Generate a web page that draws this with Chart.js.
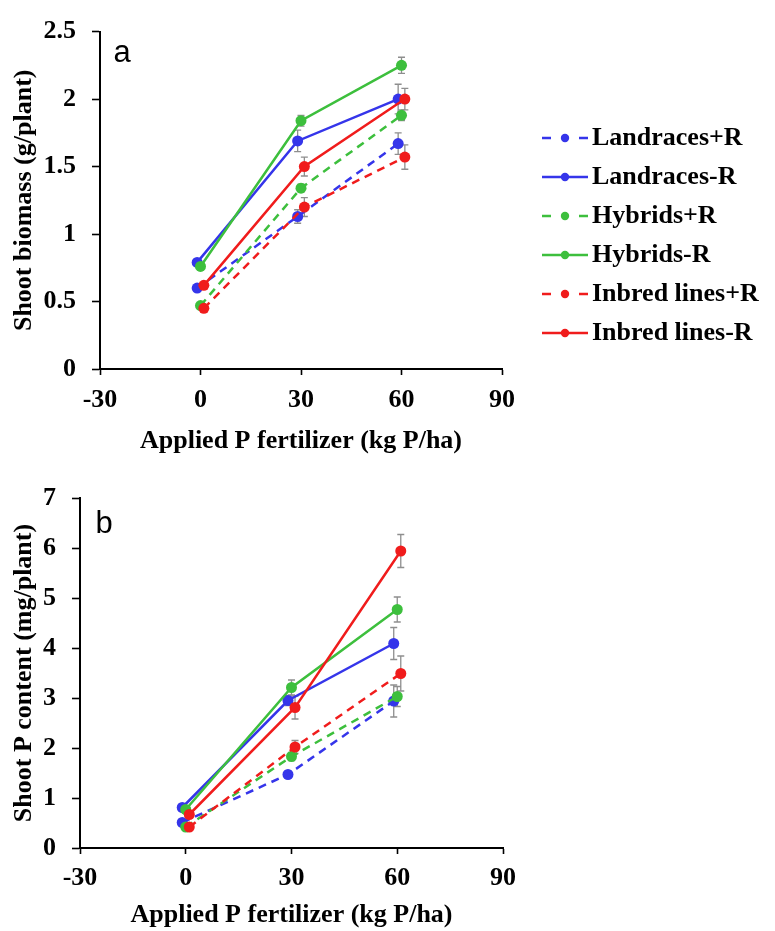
<!DOCTYPE html>
<html>
<head>
<meta charset="utf-8">
<script src="https://cdn.jsdelivr.net/npm/chart.js@4.4.0/dist/chart.umd.min.js"></script>
<style>
  html, body { margin: 0; padding: 0; background: #fff; }
  body { width: 775px; height: 931px; position: relative; overflow: hidden; }
  #wa { position: absolute; left: 0; top: 0; width: 775px; height: 460px; }
  #wb { position: absolute; left: 0; top: 460px; width: 775px; height: 471px; }
</style>
</head>
<body>
<div id="wa"><canvas id="ca"></canvas></div>
<div id="wb"><canvas id="cb"></canvas></div>
<script>
// ---------------- data ----------------
const SERIES_NAMES = ['Landraces+R', 'Landraces-R', 'Hybrids+R', 'Hybrids-R', 'Inbred lines+R', 'Inbred lines-R'];

// applied P (kg P/ha), slightly offset per group as plotted
const X_LANDRACES = [-1, 29, 59];
const X_HYBRIDS   = [0, 30, 60];
const X_INBRED    = [1, 31, 61];

const X_TICKS   = [-30, 0, 30, 60, 90];
const Y_TICKS_A = [0, 0.5, 1, 1.5, 2, 2.5];
const Y_TICKS_B = [0, 1, 2, 3, 4, 5, 6, 7];

// panel a: shoot biomass (g/plant)
const A_LANDRACES_PLUS  = [0.60, 1.13, 1.67];
const A_LANDRACES_MINUS = [0.79, 1.69, 2.00];
const A_HYBRIDS_PLUS    = [0.47, 1.34, 1.88];
const A_HYBRIDS_MINUS   = [0.76, 1.84, 2.25];
const A_INBRED_PLUS     = [0.45, 1.20, 1.57];
const A_INBRED_MINUS    = [0.62, 1.50, 2.00];

const A_ERR_LANDRACES_PLUS  = [0.02, 0.05, 0.08];
const A_ERR_LANDRACES_MINUS = [0.02, 0.08, 0.11];
const A_ERR_HYBRIDS_PLUS    = [0.02, 0.03, 0.04];
const A_ERR_HYBRIDS_MINUS   = [0.02, 0.04, 0.06];
const A_ERR_INBRED_PLUS     = [0.02, 0.07, 0.09];
const A_ERR_INBRED_MINUS    = [0.02, 0.07, 0.08];

// panel b: shoot P content (mg/plant)
const B_LANDRACES_PLUS  = [0.51, 1.47, 2.94];
const B_LANDRACES_MINUS = [0.81, 2.95, 4.09];
const B_HYBRIDS_PLUS    = [0.42, 1.83, 3.03];
const B_HYBRIDS_MINUS   = [0.77, 3.21, 4.77];
const B_INBRED_PLUS     = [0.42, 2.02, 3.49];
const B_INBRED_MINUS    = [0.67, 2.81, 5.94];

const B_ERR_LANDRACES_PLUS  = [0.03, 0.05, 0.32];
const B_ERR_LANDRACES_MINUS = [0.03, 0.10, 0.32];
const B_ERR_HYBRIDS_PLUS    = [0.03, 0.08, 0.20];
const B_ERR_HYBRIDS_MINUS   = [0.03, 0.15, 0.25];
const B_ERR_INBRED_PLUS     = [0.03, 0.13, 0.35];
const B_ERR_INBRED_MINUS    = [0.03, 0.23, 0.33];

// ---------------- styles ----------------
const SERIF = "'Liberation Serif', 'Times New Roman', serif";
const SANS = "'Liberation Sans', Arial, sans-serif";
Chart.defaults.font.family = SERIF;
Chart.defaults.font.size = 26;
Chart.defaults.font.weight = 'bold';
Chart.defaults.color = '#000';

const BLUE = '#3535ea', GREEN = '#3dbf3d', RED = '#f01c1c';
const SERIES_STYLE = [
  { color: BLUE,  dashed: true,  order: 6 },
  { color: BLUE,  dashed: false, order: 5 },
  { color: GREEN, dashed: true,  order: 4 },
  { color: GREEN, dashed: false, order: 3 },
  { color: RED,   dashed: true,  order: 2 },
  { color: RED,   dashed: false, order: 1 }
];
const SERIES_X = [X_LANDRACES, X_LANDRACES, X_HYBRIDS, X_HYBRIDS, X_INBRED, X_INBRED];

function legendSample(color, dashed) {
  const c = document.createElement('canvas');
  c.width = 46; c.height = 12;
  const g = c.getContext('2d');
  g.strokeStyle = color; g.fillStyle = color; g.lineWidth = 2.5;
  g.beginPath();
  if (dashed) { g.moveTo(0, 6); g.lineTo(9, 6); g.moveTo(37, 6); g.lineTo(46, 6); }
  else { g.moveTo(0, 6); g.lineTo(46, 6); }
  g.stroke();
  g.beginPath(); g.arc(23, 6, 4.2, 0, Math.PI * 2); g.fill();
  return c;
}
const SAMPLES = SERIES_STYLE.map(s => legendSample(s.color, s.dashed));

function buildDatasets(values, errors) {
  return SERIES_NAMES.map((name, i) => ({
    label: name,
    data: values[i].map((v, j) => ({ x: SERIES_X[i][j], y: v })),
    errors: errors[i],
    borderColor: SERIES_STYLE[i].color,
    backgroundColor: SERIES_STYLE[i].color,
    borderWidth: 2.5,
    borderDash: SERIES_STYLE[i].dashed ? [8, 6] : [],
    pointRadius: 5.5,
    pointHoverRadius: 5.5,
    pointBorderWidth: 0,
    pointBackgroundColor: SERIES_STYLE[i].color,
    tension: 0,
    fill: false,
    order: SERIES_STYLE[i].order
  }));
}

// ---------------- plugins ----------------
const errorBars = {
  id: 'errorBars',
  beforeDatasetsDraw(chart) {
    const ctx = chart.ctx, xs = chart.scales.x, ys = chart.scales.y;
    ctx.save();
    ctx.strokeStyle = '#8e8e8e';
    ctx.lineWidth = 1.3;
    chart.data.datasets.forEach(ds => {
      if (!ds.errors) return;
      ds.data.forEach((p, j) => {
        const e = ds.errors[j];
        if (!e) return;
        const px = xs.getPixelForValue(p.x);
        const y1 = ys.getPixelForValue(p.y + e), y2 = ys.getPixelForValue(p.y - e);
        ctx.beginPath();
        ctx.moveTo(px, y1); ctx.lineTo(px, y2);
        ctx.moveTo(px - 3.5, y1); ctx.lineTo(px + 3.5, y1);
        ctx.moveTo(px - 3.5, y2); ctx.lineTo(px + 3.5, y2);
        ctx.stroke();
      });
    });
    ctx.restore();
  }
};

const panelLabel = {
  id: 'panelLabel',
  afterDraw(chart, args, o) {
    if (!o || !o.text) return;
    const { ctx, chartArea } = chart;
    ctx.save();
    ctx.font = '31px ' + SANS;
    ctx.fillStyle = '#000';
    ctx.textAlign = 'center';
    ctx.textBaseline = 'middle';
    ctx.fillText(o.text, chartArea.left + o.dx, chartArea.top + o.dy);
    ctx.restore();
  }
};

const placeLegend = {
  id: 'placeLegend',
  afterLayout(chart, args, o) {
    const lg = chart.legend;
    if (!lg || !o || o.left === undefined) return;
    lg.left = o.left; lg.right = chart.width;
    lg.width = lg.right - lg.left;
    lg.top = o.top; lg.bottom = o.top + 300; lg.height = 300;
  }
};

function scales(yTicks, yMax, yTitle, yWidth, xHeight, xTickPad, xTitlePadBottom) {
  return {
    x: {
      type: 'linear', min: -30, max: 90,
      afterBuildTicks: s => { s.ticks = X_TICKS.map(v => ({ value: v })); },
      afterFit: s => { s.height = xHeight; },
      ticks: { padding: xTickPad, autoSkip: false, maxRotation: 0, callback: v => String(v) },
      grid: { display: true, drawOnChartArea: false, drawTicks: true, tickLength: 6, tickColor: '#000', tickWidth: 1.6 },
      border: { display: true, color: '#000', width: 2 },
      title: { display: true, text: 'Applied P fertilizer (kg P/ha)', padding: { top: 0, bottom: xTitlePadBottom } }
    },
    y: {
      type: 'linear', min: 0, max: yMax,
      afterBuildTicks: s => { s.ticks = yTicks.map(v => ({ value: v })); },
      afterFit: s => { s.width = yWidth; },
      ticks: { padding: 16, autoSkip: false, callback: v => String(v) },
      grid: { display: true, drawOnChartArea: false, drawTicks: true, tickLength: 8, tickColor: '#000', tickWidth: 1.6 },
      border: { display: true, color: '#000', width: 2 },
      title: { display: true, text: yTitle, padding: { top: 9, bottom: 0 } }
    }
  };
}

// ---------------- chart a ----------------
new Chart(document.getElementById('ca'), {
  type: 'line',
  data: {
    datasets: buildDatasets(
      [A_LANDRACES_PLUS, A_LANDRACES_MINUS, A_HYBRIDS_PLUS, A_HYBRIDS_MINUS, A_INBRED_PLUS, A_INBRED_MINUS],
      [A_ERR_LANDRACES_PLUS, A_ERR_LANDRACES_MINUS, A_ERR_HYBRIDS_PLUS, A_ERR_HYBRIDS_MINUS, A_ERR_INBRED_PLUS, A_ERR_INBRED_MINUS])
  },
  options: {
    responsive: true, maintainAspectRatio: false, animation: false, devicePixelRatio: 1,
    layout: { padding: { left: 0, top: 19, right: 273, bottom: 0 } },
    scales: scales(Y_TICKS_A, 2.5, 'Shoot biomass (g/plant)', 100, 91, 10, 3),
    plugins: {
      tooltip: { enabled: false },
      panelLabel: { text: 'a', dx: 22, dy: 22 },
      placeLegend: { left: 538, top: 112 },
      legend: {
        display: true, position: 'chartArea', align: 'start',
        labels: {
          usePointStyle: true, pointStyleWidth: 28, padding: 13,
          font: { family: SERIF, size: 26, weight: 'bold' }, color: '#000',
          generateLabels: chart => chart.data.datasets.map((ds, i) => ({
            text: ds.label, pointStyle: SAMPLES[i], fillStyle: ds.borderColor,
            strokeStyle: ds.borderColor, lineWidth: 0, hidden: false, datasetIndex: i, fontColor: '#000'
          }))
        }
      }
    }
  },
  plugins: [errorBars, panelLabel, placeLegend]
});

// ---------------- chart b ----------------
new Chart(document.getElementById('cb'), {
  type: 'line',
  data: {
    datasets: buildDatasets(
      [B_LANDRACES_PLUS, B_LANDRACES_MINUS, B_HYBRIDS_PLUS, B_HYBRIDS_MINUS, B_INBRED_PLUS, B_INBRED_MINUS],
      [B_ERR_LANDRACES_PLUS, B_ERR_LANDRACES_MINUS, B_ERR_HYBRIDS_PLUS, B_ERR_HYBRIDS_MINUS, B_ERR_INBRED_PLUS, B_ERR_INBRED_MINUS])
  },
  options: {
    responsive: true, maintainAspectRatio: false, animation: false, devicePixelRatio: 1,
    layout: { padding: { left: 0, top: 38, right: 272, bottom: 0 } },
    scales: scales(Y_TICKS_B, 7, 'Shoot P content (mg/plant)', 80, 83, 9, 0),
    plugins: {
      tooltip: { enabled: false },
      legend: { display: false },
      panelLabel: { text: 'b', dx: 24, dy: 26 }
    }
  },
  plugins: [errorBars, panelLabel]
});
</script>
</body>
</html>
